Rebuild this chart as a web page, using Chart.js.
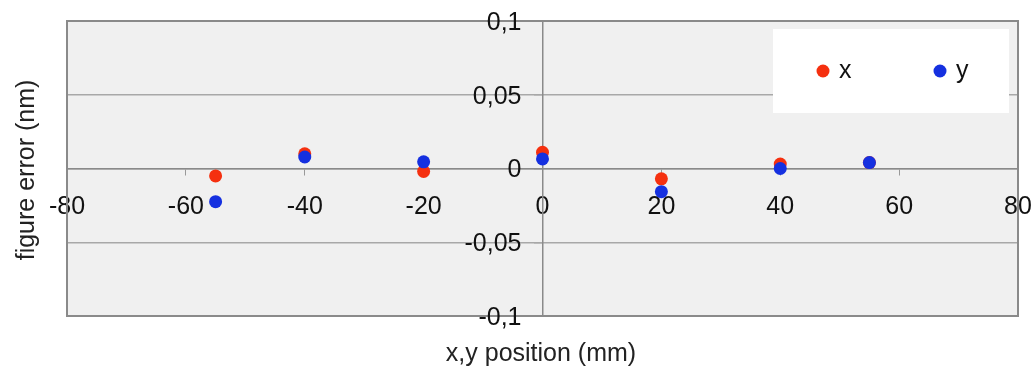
<!DOCTYPE html>
<html>
<head>
<meta charset="utf-8">
<script src="https://cdn.jsdelivr.net/npm/chart.js@4/dist/chart.umd.min.js"></script>
<style>
  html, body { margin: 0; padding: 0; background: #fff; }
  #wrap { width: 1032px; height: 372px; position: relative; }
</style>
</head>
<body>
<div id="wrap"><canvas id="chart" width="1032" height="372"></canvas></div>
<script>
const positions = [-55, -40, -20, 0, 20, 40, 55];
const errX = [-0.005, 0.010, -0.002, 0.011, -0.007, 0.003, 0.004];
const errY = [-0.0225, 0.0078, 0.0045, 0.0065, -0.0157, 0.0, 0.004];
const seriesNames = ['x', 'y'];
const seriesColors = ['#f5300f', '#1530e0'];
const xTicks = [-80, -60, -40, -20, 0, 20, 40, 60, 80];
const yTicks = [-0.1, -0.05, 0, 0.05, 0.1];

const FONT = '"Liberation Sans", Arial, sans-serif';

function toPoints(vals){
  return positions.map((p, i) => ({ x: p, y: vals[i] }));
}
function commaLabel(v){
  const r = Math.round(v * 1000) / 1000;
  return String(r).replace('.', ',');
}

// plot frame, background, legend box, axis titles, y tick labels
const decor = {
  id: 'decor',
  beforeDraw(chart){
    const { ctx, chartArea: a } = chart;
    ctx.save();
    ctx.fillStyle = '#f0f0f0';
    ctx.fillRect(a.left, a.top, a.right - a.left, a.bottom - a.top);
    ctx.restore();
  },
  beforeDatasetsDraw(chart){
    const { ctx, chartArea: a, scales } = chart;
    ctx.save();
    // frame
    ctx.strokeStyle = '#8a8a8a';
    ctx.lineWidth = 2;
    ctx.strokeRect(a.left, a.top, a.right - a.left, a.bottom - a.top);
    // legend
    const lx = 773, ly = 29, lw = 236, lh = 84;
    ctx.fillStyle = '#ffffff';
    ctx.fillRect(lx, ly, lw, lh);
    ctx.font = '25px ' + FONT;
    ctx.textBaseline = 'middle';
    chart.data.datasets.forEach((ds, i) => {
      const dx = lx + 50 + i * 117;
      const dy = ly + 42;
      ctx.fillStyle = ds.backgroundColor;
      ctx.beginPath();
      ctx.arc(dx, dy, 6.5, 0, Math.PI * 2);
      ctx.fill();
      ctx.fillStyle = '#111';
      ctx.textAlign = 'left';
      ctx.fillText(ds.label, dx + 16, dy);
    });
    // y tick labels, left of the y axis at x = 0
    const x0 = scales.x.getPixelForValue(0);
    ctx.textAlign = 'right';
    ctx.textBaseline = 'middle';
    scales.y.ticks.forEach(t => {
      ctx.fillText(commaLabel(t.value), x0 - 21, scales.y.getPixelForValue(t.value) + 2);
    });
    // axis titles
    ctx.fillStyle = '#222';
    ctx.font = '25px ' + FONT;
    ctx.textAlign = 'center';
    ctx.textBaseline = 'alphabetic';
    ctx.fillText('x,y position (mm)', 541, 361);
    ctx.translate(34, 170);
    ctx.rotate(-Math.PI / 2);
    ctx.fillText('figure error (nm)', 0, 0);
    ctx.restore();
  }
};

new Chart(document.getElementById('chart'), {
  type: 'scatter',
  data: {
    datasets: seriesNames.map((name, i) => ({
      label: name,
      data: toPoints(i === 0 ? errX : errY),
      backgroundColor: seriesColors[i],
      borderColor: seriesColors[i],
      pointRadius: 6.5,
      pointHoverRadius: 6.5,
      borderWidth: 0,
      order: i === 0 ? 1 : 0
    }))
  },
  options: {
    responsive: false,
    animation: false,
    layout: { padding: { left: 67, top: 21, right: 14, bottom: 56 } },
    plugins: { legend: { display: false }, tooltip: { enabled: false } },
    scales: {
      x: {
        type: 'linear',
        position: { y: 0 },
        min: -80, max: 80,
        afterBuildTicks: axis => { axis.ticks = xTicks.map(v => ({ value: v })); },
        // edge labels may spill past the frame, as in the original
        afterFit: axis => { axis.paddingLeft = 0; axis.paddingRight = 0; },
        grid: { drawOnChartArea: false, drawTicks: true, tickLength: 6, color: '#999' },
        border: { display: true, color: '#8a8a8a', width: 1.5 },
        ticks: {
          padding: 18,
          color: '#111',
          font: { family: FONT, size: 25 },
          maxRotation: 0,
          autoSkip: false
        }
      },
      y: {
        type: 'linear',
        position: { x: 0 },
        min: -0.1, max: 0.1,
        afterBuildTicks: axis => { axis.ticks = yTicks.map(v => ({ value: v })); },
        afterFit: axis => { axis.paddingTop = 0; axis.paddingBottom = 0; },
        grid: { drawOnChartArea: true, drawTicks: true, tickLength: 8, color: '#a8a8a8', lineWidth: 1.5 },
        border: { display: true, color: '#8a8a8a', width: 1.5 },
        ticks: { display: false }
      }
    }
  },
  plugins: [decor]
});
</script>
</body>
</html>
